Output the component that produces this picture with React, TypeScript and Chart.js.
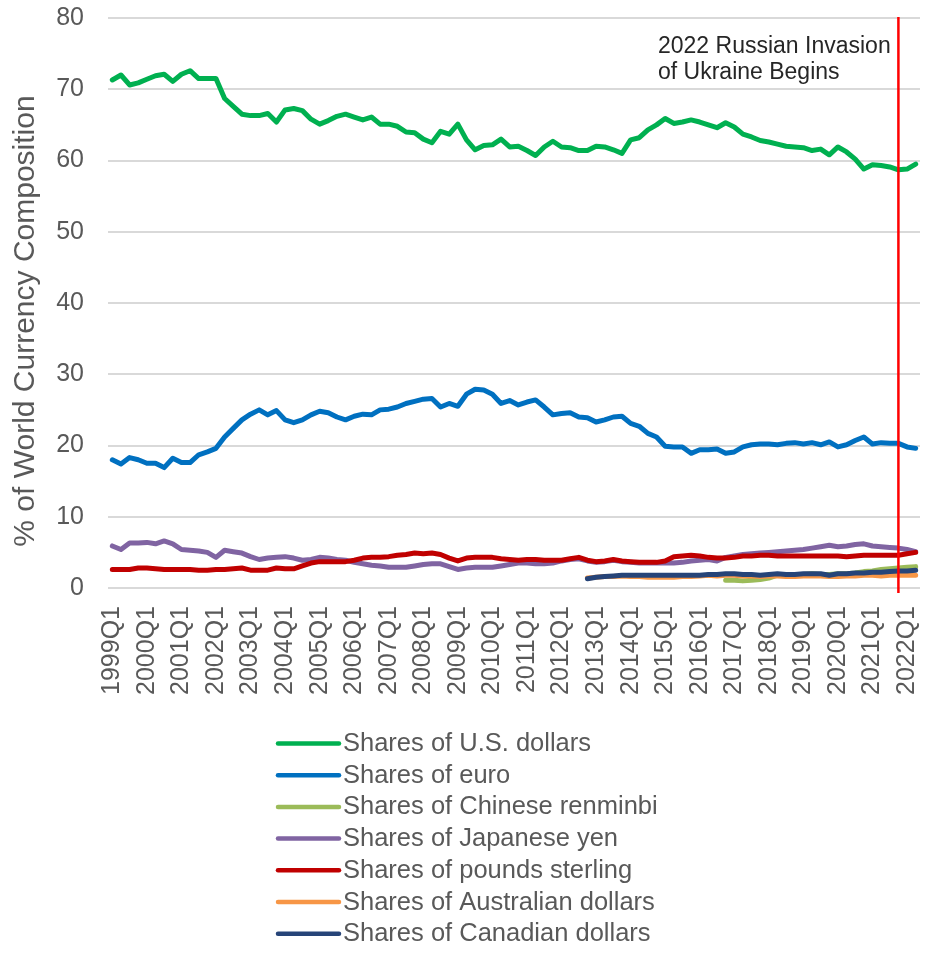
import { useEffect, useRef } from 'react';
import { Chart, registerables } from 'chart.js';

Chart.register(...registerables);

const FONT = '"Liberation Sans", Arial, Helvetica, sans-serif';
const GREY_TEXT = '#595959';

// Quarterly categories, 1999Q1 through 2022Q2
const YEARS = [
  1999, 2000, 2001, 2002, 2003, 2004, 2005, 2006, 2007, 2008, 2009, 2010,
  2011, 2012, 2013, 2014, 2015, 2016, 2017, 2018, 2019, 2020, 2021, 2022,
];
const QUARTER_NAMES = ['Q1', 'Q2', 'Q3', 'Q4'];
const QUARTERS: string[] = YEARS.flatMap((y) => QUARTER_NAMES.map((q) => `${y}${q}`)).slice(0, 94);

const Y_TICKS = { min: 0, max: 80, step: 10 };
const MARKER_QUARTER = '2021Q4';
const MARKER_TEXT = ['2022 Russian Invasion', 'of Ukraine Begins'];
const Y_TITLE = '% of World Currency Composition';

// Shares of allocated reserves, percent
const USD = [
  71.3, 72.0, 70.6, 70.9, 71.4, 71.9, 72.1, 71.1, 72.1, 72.6, 71.5, 71.5,
  71.5, 68.7, 67.6, 66.5, 66.3, 66.3, 66.6, 65.4, 67.1, 67.3, 67.0, 65.8,
  65.1, 65.6, 66.2, 66.5, 66.1, 65.7, 66.1, 65.1, 65.1, 64.8, 64.0, 63.9,
  63.0, 62.5, 64.1, 63.7, 65.1, 62.9, 61.5, 62.1, 62.2, 63.0, 61.9, 62.0,
  61.4, 60.7, 61.9, 62.7, 61.9, 61.8, 61.4, 61.4, 62.0, 61.9, 61.5, 61.0,
  62.9, 63.2, 64.3, 65.0, 65.9, 65.2, 65.4, 65.7, 65.4, 65.0, 64.6, 65.3,
  64.7, 63.7, 63.3, 62.8, 62.6, 62.3, 62.0, 61.9, 61.8, 61.4, 61.6, 60.8,
  61.9, 61.2, 60.2, 58.8, 59.4, 59.3, 59.1, 58.7, 58.8, 59.5,
];

const EUR = [
  18.0, 17.4, 18.3, 18.0, 17.5, 17.5, 16.9, 18.2, 17.6, 17.6, 18.7, 19.1,
  19.6, 21.2, 22.4, 23.6, 24.4, 25.0, 24.3, 24.9, 23.6, 23.2, 23.6, 24.3,
  24.8, 24.6, 24.0, 23.6, 24.1, 24.4, 24.3, 25.0, 25.1, 25.4, 25.9, 26.2,
  26.5, 26.6, 25.4, 25.9, 25.5, 27.2, 27.9, 27.8, 27.2, 25.9, 26.3, 25.7,
  26.1, 26.4, 25.4, 24.3, 24.5, 24.6, 24.0, 23.9, 23.3, 23.6, 24.0, 24.1,
  23.1, 22.7, 21.7, 21.2, 19.9, 19.8, 19.8, 18.9, 19.4, 19.4, 19.5, 18.9,
  19.1, 19.8, 20.1, 20.2, 20.2, 20.1, 20.3, 20.4, 20.2, 20.4, 20.1, 20.5,
  19.8, 20.1, 20.7, 21.2, 20.2, 20.4, 20.3, 20.3, 19.8, 19.6,
];

const CNY_START = '2016Q4';
const CNY = [
  1.1, 1.1, 1.0, 1.1, 1.2, 1.4, 1.8, 1.8, 1.9, 1.9, 2.0, 1.9,
  1.9, 2.0, 2.0, 2.1, 2.3, 2.4, 2.6, 2.7, 2.8, 2.9, 3.0,
];

const JPY = [
  5.9, 5.4, 6.3, 6.3, 6.4, 6.2, 6.6, 6.2, 5.4, 5.3, 5.2, 5.0,
  4.3, 5.3, 5.1, 4.9, 4.4, 4.0, 4.2, 4.3, 4.4, 4.2, 3.9, 4.0,
  4.3, 4.2, 4.0, 3.9, 3.6, 3.4, 3.2, 3.1, 2.9, 2.9, 2.9, 3.1,
  3.3, 3.4, 3.4, 3.0, 2.6, 2.8, 2.9, 2.9, 2.9, 3.1, 3.3, 3.5,
  3.5, 3.4, 3.4, 3.5, 3.8, 4.0, 4.1, 3.8, 3.6, 3.7, 3.9, 3.7,
  3.6, 3.5, 3.5, 3.5, 3.5, 3.5, 3.6, 3.8, 3.9, 4.0, 3.8, 4.3,
  4.5, 4.7, 4.8, 4.9, 5.0, 5.1, 5.2, 5.3, 5.4, 5.6, 5.8, 6.0,
  5.8, 5.9, 6.1, 6.2, 5.9, 5.8, 5.7, 5.6, 5.4, 5.1,
];

const GBP = [
  2.6, 2.6, 2.6, 2.8, 2.8, 2.7, 2.6, 2.6, 2.6, 2.6, 2.5, 2.5,
  2.6, 2.6, 2.7, 2.8, 2.5, 2.5, 2.5, 2.8, 2.7, 2.7, 3.1, 3.5,
  3.7, 3.7, 3.7, 3.7, 3.9, 4.2, 4.3, 4.3, 4.4, 4.6, 4.7, 4.9,
  4.8, 4.9, 4.7, 4.2, 3.8, 4.2, 4.3, 4.3, 4.3, 4.1, 4.0, 3.9,
  4.0, 4.0, 3.9, 3.9, 3.9, 4.1, 4.3, 3.9, 3.7, 3.8, 4.0, 3.8,
  3.7, 3.6, 3.6, 3.6, 3.8, 4.4, 4.5, 4.6, 4.5, 4.3, 4.2, 4.2,
  4.3, 4.5, 4.5, 4.6, 4.6, 4.5, 4.5, 4.5, 4.5, 4.5, 4.5, 4.5,
  4.5, 4.4, 4.5, 4.6, 4.6, 4.6, 4.6, 4.6, 4.8, 5.0,
];

const AUD_START = '2012Q4';
const AUD = [
  1.4, 1.5, 1.6, 1.6, 1.7, 1.6, 1.6, 1.5, 1.5, 1.5, 1.5, 1.6,
  1.6, 1.7, 1.8, 1.7, 1.8, 1.8, 1.7, 1.7, 1.6, 1.7, 1.7, 1.6,
  1.6, 1.7, 1.7, 1.7, 1.6, 1.6, 1.7, 1.7, 1.8, 1.8, 1.7, 1.8,
  1.8, 1.8, 1.8,
];

const CAD_START = '2012Q4';
const CAD = [
  1.3, 1.5, 1.6, 1.7, 1.8, 1.8, 1.8, 1.8, 1.8, 1.8, 1.8, 1.8,
  1.8, 1.8, 1.9, 1.9, 2.0, 2.0, 1.9, 1.9, 1.8, 1.9, 2.0, 1.9,
  1.9, 2.0, 2.0, 2.0, 1.8, 2.0, 2.0, 2.1, 2.1, 2.2, 2.2, 2.3,
  2.4, 2.4, 2.5,
];

// series that begin later are left empty before their first quarter
const fromQuarter = (start: string, values: number[]) => [
  ...new Array(QUARTERS.indexOf(start)).fill(null),
  ...values,
];

const SERIES = [
  { label: 'Shares of U.S. dollars', color: '#00B050', data: USD },
  { label: 'Shares of euro', color: '#0070C0', data: EUR },
  { label: 'Shares of Chinese renminbi', color: '#9BBB59', data: fromQuarter(CNY_START, CNY) },
  { label: 'Shares of Japanese yen', color: '#8064A2', data: JPY },
  { label: 'Shares of pounds sterling', color: '#C00000', data: GBP },
  { label: 'Shares of Australian dollars', color: '#F79646', data: fromQuarter(AUD_START, AUD) },
  { label: 'Shares of Canadian dollars', color: '#264478', data: fromQuarter(CAD_START, CAD) },
];

// Marker line, axis title, annotation and the stacked legend
const overlay = {
  id: 'overlay',
  afterDatasetsDraw(chart: any) {
    const { ctx, chartArea, scales } = chart;
    const px = scales.x.getPixelForValue(QUARTERS.indexOf(MARKER_QUARTER));
    ctx.save();
    ctx.strokeStyle = '#FF0000';
    ctx.lineWidth = 2.5;
    ctx.beginPath();
    ctx.moveTo(px, chartArea.top - 1);
    ctx.lineTo(px, chartArea.bottom + 5);
    ctx.stroke();
    ctx.restore();
  },
  afterDraw(chart: any) {
    const { ctx, chartArea } = chart;
    ctx.save();

    // y-axis title
    ctx.translate(26, 321);
    ctx.rotate(-Math.PI / 2);
    ctx.font = `30px ${FONT}`;
    ctx.fillStyle = GREY_TEXT;
    ctx.textAlign = 'center';
    ctx.textBaseline = 'middle';
    ctx.fillText(Y_TITLE, 0, 0);
    ctx.setTransform(1, 0, 0, 1, 0, 0);

    // annotation near the marker line
    ctx.font = `23px ${FONT}`;
    ctx.fillStyle = '#262626';
    ctx.textAlign = 'left';
    ctx.textBaseline = 'alphabetic';
    MARKER_TEXT.forEach((line, i) => {
      ctx.fillText(line, 658, chartArea.top + 35 + i * 25.5);
    });

    // legend, one entry per row
    ctx.font = `25.5px ${FONT}`;
    ctx.textBaseline = 'middle';
    ctx.lineCap = 'round';
    ctx.lineWidth = 4.5;
    SERIES.forEach((s, i) => {
      const y = 743.5 + i * 31.7;
      ctx.strokeStyle = s.color;
      ctx.beginPath();
      ctx.moveTo(278, y);
      ctx.lineTo(339, y);
      ctx.stroke();
      ctx.fillStyle = GREY_TEXT;
      ctx.fillText(s.label, 343, y + 0.5);
    });

    ctx.restore();
  },
};

export default function App() {
  const canvasRef = useRef<HTMLCanvasElement>(null);

  useEffect(() => {
    const canvas = canvasRef.current;
    if (!canvas) return;
    const tickFont = { family: FONT, size: 25 };

    const chart = new Chart(canvas, {
      type: 'line',
      data: {
        labels: QUARTERS,
        datasets: SERIES.map((s, i) => ({
          label: s.label,
          data: s.data,
          borderColor: s.color,
          backgroundColor: s.color,
          borderWidth: 5,
          borderCapStyle: 'round',
          borderJoinStyle: 'round',
          pointRadius: 0,
          pointHoverRadius: 0,
          tension: 0,
          fill: false,
          order: SERIES.length - i,
        })),
      },
      options: {
        responsive: false,
        animation: false,
        devicePixelRatio: 1,
        layout: { padding: { top: 18, right: 12, bottom: 260, left: 0 } },
        plugins: {
          legend: { display: false },
          tooltip: { enabled: false },
        },
        scales: {
          x: {
            type: 'category',
            offset: true,
            grid: { display: false, drawTicks: false },
            border: { display: false },
            ticks: {
              autoSkip: false,
              minRotation: 90,
              maxRotation: 90,
              padding: 18,
              color: GREY_TEXT,
              font: tickFont,
              callback: (_v: any, i: number) => (QUARTERS[i].endsWith('Q1') ? QUARTERS[i] : ''),
            },
            afterFit: (scale: any) => {
              scale.height = 120;
              scale.paddingLeft = 0;
              scale.paddingRight = 0;
            },
          },
          y: {
            min: Y_TICKS.min,
            max: Y_TICKS.max,
            grid: { color: '#D9D9D9', lineWidth: 2, drawTicks: false },
            border: { display: false },
            ticks: {
              stepSize: Y_TICKS.step,
              padding: 24,
              color: GREY_TEXT,
              font: tickFont,
            },
            afterFit: (scale: any) => {
              scale.width = 108;
              scale.paddingTop = 0;
              scale.paddingBottom = 0;
            },
          },
        },
      },
      plugins: [overlay],
    } as any);

    return () => chart.destroy();
  }, []);

  return (
    <div style={{ position: 'absolute', left: 0, top: 0, width: 932, height: 968, background: '#ffffff' }}>
      <canvas ref={canvasRef} width={932} height={968} style={{ display: 'block' }} />
    </div>
  );
}
